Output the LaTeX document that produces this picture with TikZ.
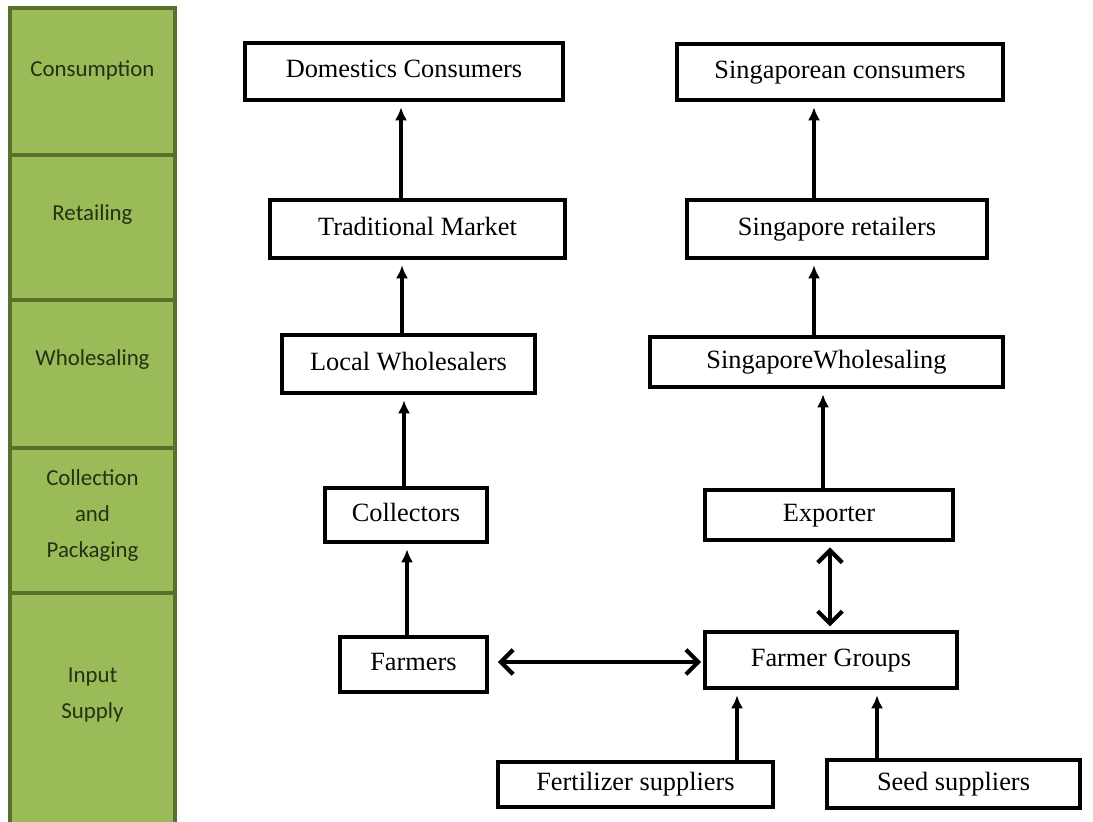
\documentclass[tikz,border=0pt]{standalone}
\usepackage{fontspec}
\setmainfont{Liberation Serif}
\newfontfamily\stagefont{Carlito}
\usetikzlibrary{arrows.meta,calc}

\definecolor{stagegreen}{RGB}{155,187,89}
\definecolor{stageedge}{RGB}{88,112,44}
\definecolor{stageink}{RGB}{38,48,18}

\begin{document}
\begin{tikzpicture}[x=0.02cm, y=-0.02cm,
		stage/.style={fill=stagegreen, draw=stageedge, line width=2.4pt},
		stagetext/.style={font=\stagefont\fontsize{13}{20.5}\selectfont, text=stageink, align=center},
		chainbox/.style={draw, line width=2.3pt, fill=white, inner sep=0pt, text height=10pt, text depth=3pt, font=\fontsize{15}{18}\selectfont},
		flow/.style={line width=2.2pt, -{Latex[length=7.5pt,width=7pt]}, shorten >=3pt},
		both/.style={line width=2.4pt, {Straight Barb[length=7pt,width=14pt]}-{Straight Barb[length=7pt,width=14pt]}}
	]

		\def\px{0.02cm} % one pixel of the reference
		\def\colL{10} \def\colR{175}

		\useasboundingbox (0,0) rectangle (1093,822);

		% Stage column
		\foreach \ytop/\ybot in {8/155,155/300,300/448,448/593,593/830}
			\draw[stage] (\colL,\ytop) rectangle (\colR,\ybot);

		\node[stagetext] (consumption) at (92.5,70) {Consumption};
		\node[stagetext] (retailing) at (92.5,215) {Retailing};
		\node[stagetext] (wholesaling) at (92.5,360) {Wholesaling};
		\node[stagetext] (collection) at (92.5,516) {Collection\\and\\Packaging};
		\node[stagetext] (input) at (92.5,695) {Input\\Supply};

		% Domestic chain
		\node[chainbox, minimum width=318*\px, minimum height=57*\px] (domcons) at (404,71.5) {Domestics Consumers};
		\node[chainbox, minimum width=295*\px, minimum height=58*\px] (trad) at (417.5,229) {Traditional Market};
		\node[chainbox, minimum width=253*\px, minimum height=58*\px] (lwhole) at (408.5,364) {Local Wholesalers};
		\node[chainbox, minimum width=162*\px, minimum height=54*\px] (coll) at (406,515) {Collectors};
		\node[chainbox, minimum width=147*\px, minimum height=55*\px] (farm) at (413.5,664.5) {Farmers};

		% Export chain
		\node[chainbox, minimum width=326*\px, minimum height=56*\px] (sgcons) at (840,72) {Singaporean consumers};
		\node[chainbox, minimum width=300*\px, minimum height=58*\px] (sgret) at (837,229) {Singapore retailers};
		\node[chainbox, minimum width=353*\px, minimum height=50*\px] (sgwhole) at (826.5,362) {SingaporeWholesaling};
		\node[chainbox, minimum width=248*\px, minimum height=50*\px] (exp) at (829,515) {Exporter};
		\node[chainbox, minimum width=252*\px, minimum height=56*\px] (fg) at (831,660) {Farmer Groups};

		% Suppliers
		\node[chainbox, minimum width=275*\px, minimum height=45*\px] (fert) at (635.5,784.5) {Fertilizer suppliers};
		\node[chainbox, minimum width=253*\px, minimum height=48*\px] (seed) at (953.5,784) {Seed suppliers};

		% Flows
		\draw[flow] ($(trad.north)+(-16.5,0)$) -- ($(domcons.south)+(-3,0)$);
		\draw[flow] ($(lwhole.north)+(-6.5,0)$) -- ($(trad.south)+(-15.5,0)$);
		\draw[flow] ($(coll.north)+(-2,0)$) -- ($(lwhole.south)+(-4.5,0)$);
		\draw[flow] ($(farm.north)+(-6.5,0)$) -- ($(coll.south)+(1,0)$);

		\draw[flow] ($(sgret.north)+(-23,0)$) -- ($(sgcons.south)+(-26,0)$);
		\draw[flow] ($(sgwhole.north)+(-12.5,0)$) -- ($(sgret.south)+(-23,0)$);
		\draw[flow] ($(exp.north)+(-6,0)$) -- ($(sgwhole.south)+(-3.5,0)$);

		\draw[flow] ($(fert.north)+(101.5,0)$) -- ($(fg.south)+(-94,0)$);
		\draw[flow] ($(seed.north)+(-76.5,0)$) -- ($(fg.south)+(46,0)$);

		% Two-way links
		\draw[both, shorten <=3pt, shorten >=2pt] ($(exp.south)+(1,0)$) -- ($(fg.north)+(-1,0)$);
		\draw[both, shorten <=5pt, shorten >=1pt] ($(farm.east)+(0,-2.5)$) -- ($(fg.west)+(0,2)$);

	\end{tikzpicture}
\end{document}
